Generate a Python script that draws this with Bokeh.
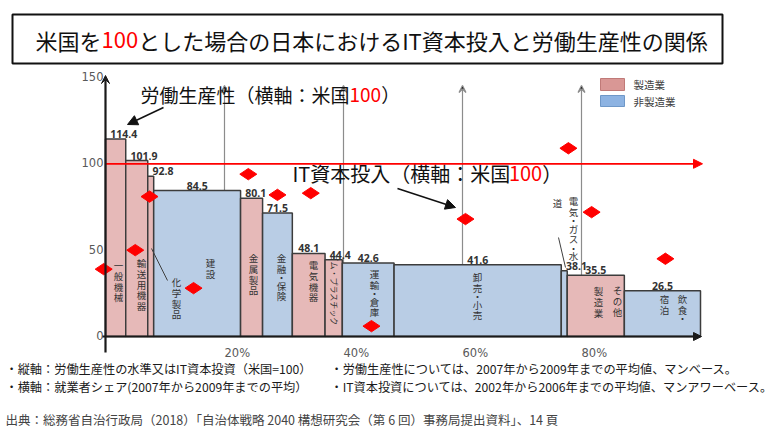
import numpy as np
from bokeh.plotting import figure
from bokeh.models import Range1d, Arrow, NormalHead, VeeHead, ColumnDataSource
from bokeh.core.properties import value
from bokeh.embed import file_html
from bokeh.resources import INLINE

# ---------------- data ----------------
categories = ["一般機械", "輸送用機器", "化学製品", "建設", "金属製品", "金融・保険", "電気機器",
              "ゴム・プラスチック", "運輸・倉庫", "卸売・小売", "電気・ガス・水道", "その他製造業", "飲食・宿泊"]
employment_share = [3.4, 3.7, 1.0, 14.6, 3.7, 5.0, 5.5, 2.9, 8.7, 28.1, 1.0, 9.6, 12.8]   # % of workers
labor_productivity = [114.4, 101.9, 92.8, 84.5, 80.1, 71.5, 48.1, 44.4, 42.6, 41.6, 38.1, 35.5, 26.5]
it_investment = [39, 50, 81, 28, 94, 82, 83, None, 6, 68, 109, 72, 45]
it_marker_share_pos = [-0.3, 5.0, 7.4, 14.8, 24.0, 28.9, 34.5, None, 44.7, 60.5, 77.8, 81.7, 94.1]
manufacturing = [True, True, True, False, True, False, True, True, False, False, False, True, False]
y_ticks = [0, 50, 100, 150]
x_ticks = [20, 40, 60, 80]
x_tick_labels = ["20%", "40%", "60%", "80%"]
us_level = 100

# ---------------- geometry helpers (picture px -> data) ----------------
X0, SX = 105.0, 5.95     # x of share 0, px per %
Y0, SY = 336.0, 1.727    # y of value 0, px per unit
W, H = 782, 428


def dx(px):
    return (px - X0) / SX


def dy(py):
    return (Y0 - py) / SY


JP = value("Noto Sans CJK JP")


def tw(s, size):
    w = 0.0
    for c in s:
        if c.isdigit() or c == "=":
            w += 0.555
        elif c == "I":
            w += 0.27
        elif c == "T":
            w += 0.55
        elif c == " ":
            w += 0.25
        elif ord(c) < 128:
            w += 0.5
        else:
            w += 1.0
    return w * size


p = figure(width=W, height=H, output_backend="svg", toolbar_location=None,
           x_range=Range1d(dx(0), dx(W)), y_range=Range1d(dy(H), dy(0)),
           min_border=0, outline_line_color=None, x_axis_type=None, y_axis_type=None,
           background_fill_color="white", border_fill_color="white")
p.grid.visible = False

# ---------------- gridlines with arrows (under bars) ----------------
for xt in x_ticks:
    p.add_layout(Arrow(x_start=xt, y_start=0, x_end=xt, y_end=dy(85),
                       line_color="#8c8c8c", line_width=1.2, level="underlay",
                       end=VeeHead(size=7, line_color="#8c8c8c", line_width=1.2)))

# ---------------- bars ----------------
lefts = np.concatenate([[0.0], np.cumsum(employment_share)[:-1]])
rights = lefts + np.array(employment_share)
centers = (lefts + rights) / 2
fills = ["#e6b9b8" if m else "#b9cde5" for m in manufacturing]
src = ColumnDataSource(dict(left=lefts, right=rights, top=labor_productivity,
                            bottom=[0] * len(categories), fill=fills, cat=categories))
p.quad(left="left", right="right", top="top", bottom="bottom", fill_color="fill",
       line_color="#3c3c3c", line_width=1.5, source=src)

# value labels
lab_x, lab_align = [], []
for l, c, s in zip(lefts, centers, employment_share):
    if s < 4.5:
        lab_x.append(l + 0.8)
        lab_align.append("left")
    else:
        lab_x.append(c)
        lab_align.append("center")
p.text(x=lab_x, y=labor_productivity, text=[f"{v:.1f}" for v in labor_productivity],
       text_align=lab_align, text_baseline="bottom", y_offset=-1,
       text_font=value("Open Sans"), text_font_style="bold", text_font_size="10.5px",
       text_color="#333333")

# ---------------- US = 100 red line ----------------
p.add_layout(Arrow(x_start=0, y_start=us_level, x_end=dx(702), y_end=us_level,
                   line_color="#ff0000", line_width=1.8,
                   end=NormalHead(size=9, fill_color="#ff0000", line_color="#ff0000")))

# ---------------- IT investment diamonds ----------------
it_x = [xp for xp, v in zip(it_marker_share_pos, it_investment) if v is not None]
it_y = [v for v in it_investment if v is not None]
p.scatter(x=it_x, y=it_y, marker="diamond", size=17, angle=np.pi / 2,
          fill_color="#ff0000", line_color="#ff0000")

# ---------------- axes ----------------
p.add_layout(Arrow(x_start=dx(102), y_start=0, x_end=dx(701), y_end=0,
                   line_color="#1a1a1a", line_width=2.2,
                   end=NormalHead(size=8, fill_color="#1a1a1a", line_color="#1a1a1a")))
p.add_layout(Arrow(x_start=0, y_start=dy(352), x_end=0, y_end=dy(75),
                   line_color="#1a1a1a", line_width=2.2,
                   end=VeeHead(size=8, fill_color="#1a1a1a", line_color="#1a1a1a")))
p.text(x=[dx(103)] * len(y_ticks), y=y_ticks, text=[str(t) for t in y_ticks],
       text_align="right", text_baseline="middle", y_offset=-1,
       text_font=value("DejaVu Sans"), text_font_size="11.5px", text_color="#595959")
p.text(x=x_ticks, y=[dy(352)] * len(x_ticks), text=x_tick_labels,
       text_align="left", text_baseline="middle",
       text_font=value("DejaVu Sans"), text_font_size="11.5px", text_color="#595959")

# ---------------- category labels (vertical, one glyph per character) ----------------
cat_labels = [("一般機械", 118, 259), ("輸送用機器", 141, 257), ("化学製品", 176, 276),
              ("建設", 210, 257), ("金属製品", 253, 252), ("金融・保険", 281, 252),
              ("電気機器", 313, 259), ("運輸・倉庫", 374, 268), ("卸売・小売", 477, 271),
              ("電気・ガス・水", 573, 195), ("道", 557, 197), ("その他", 617, 284),
              ("製造業", 598, 285), ("飲食・", 682, 293), ("宿泊", 664, 293)]
STEP, DOT = 10.8, 6.0
vx, vy, vt = [], [], []
for s, x, top in cat_labels:
    yy = top
    for ch in s:
        h = DOT if ch == "・" else STEP
        vx.append(dx(x))
        vy.append(dy(yy + h / 2))
        vt.append(ch)
        yy += h
p.text(x=vx, y=vy, text=vt, text_align="center", text_baseline="middle",
       text_font=JP, text_font_size="9.5px", text_color="#333333")
p.text(x=[dx(334)], y=[dy(289)], text=["ゴム・プラスチック"], angle=-np.pi / 2,
       text_align="center", text_baseline="middle", text_font=JP, text_font_size="8px",
       text_color="#333333")
# leader lines
p.segment(x0=[dx(151), dx(558)], y0=[dy(248), dy(237)], x1=[dx(167), dx(565)], y1=[dy(280), dy(267)],
          line_color="#404040", line_width=1)

# ---------------- multi-coloured text helper ----------------
def rich(parts, x_page, y_page, size):
    xs, ys, ts, cs = [], [], [], []
    x = x_page
    for t, col in parts:
        xs.append(dx(x))
        ys.append(dy(y_page))
        ts.append(t)
        cs.append(col)
        x += tw(t, size)
    p.text(x=xs, y=ys, text=ts, text_color=cs, text_align="left", text_baseline="middle",
           text_font=JP, text_font_size=f"{size}px")


# title box + title
p.quad(left=[dx(12)], right=[dx(722)], top=[dy(14)], bottom=[dy(63)],
       fill_color="white", line_color="#111111", line_width=2)
rich([("米国を", "#111111"), ("100", "#ff0000"),
      ("とした場合の日本におけるIT資本投入と労働生産性の関係", "#111111")], 35, 39, 22)

# annotations
rich([("労働生産性（横軸：米国", "#111111"), ("100", "#ff0000"), ("）", "#111111")], 140, 94, 19)
rich([("IT資本投入（横軸：米国", "#111111"), ("100", "#ff0000"), ("）", "#111111")], 292, 173, 20)
p.add_layout(Arrow(x_start=dx(163), y_start=dy(107), x_end=dx(127), y_end=dy(124),
                   line_color="#111111", line_width=1.5,
                   end=NormalHead(size=10, fill_color="#111111", line_color="#111111")))
p.add_layout(Arrow(x_start=dx(397), y_start=dy(188), x_end=dx(455), y_end=dy(207),
                   line_color="#111111", line_width=1.5,
                   end=NormalHead(size=10, fill_color="#111111", line_color="#111111")))

# legend
p.quad(left=[dx(600), dx(600)], right=[dx(624), dx(624)], top=[dy(78), dy(95)],
       bottom=[dy(90), dy(106)], fill_color=["#d99795", "#8db3e2"],
       line_color=["#c07a78", "#6f98c8"], line_width=1)
p.text(x=[dx(633), dx(633)], y=[dy(84), dy(101)], text=["製造業", "非製造業"],
       text_align="left", text_baseline="middle", text_font=JP, text_font_size="10.5px",
       text_color="#404040")

# footnotes
p.text(x=[dx(5), dx(330), dx(5), dx(330)], y=[dy(368), dy(368), dy(386), dy(386)],
       text=["・縦軸：労働生産性の水準又はIT資本投資（米国=100）",
             "・労働生産性については、2007年から2009年までの平均値、マンベース。",
             "・横軸：就業者シェア(2007年から2009年までの平均）",
             "・IT資本投資については、2002年から2006年までの平均値、マンアワーベース。"],
       text_align="left", text_baseline="middle", text_font=JP, text_font_size="12.2px",
       text_color="#1a1a1a")
p.text(x=[dx(5)], y=[dy(419)],
       text=["出典：総務省自治行政局（2018）「自治体戦略 2040 構想研究会（第 6 回）事務局提出資料」、14 頁"],
       text_align="left", text_baseline="middle", text_font=JP, text_font_size="12.5px",
       text_color="#444444")

open("out.html", "w").write(file_html(p, INLINE))
